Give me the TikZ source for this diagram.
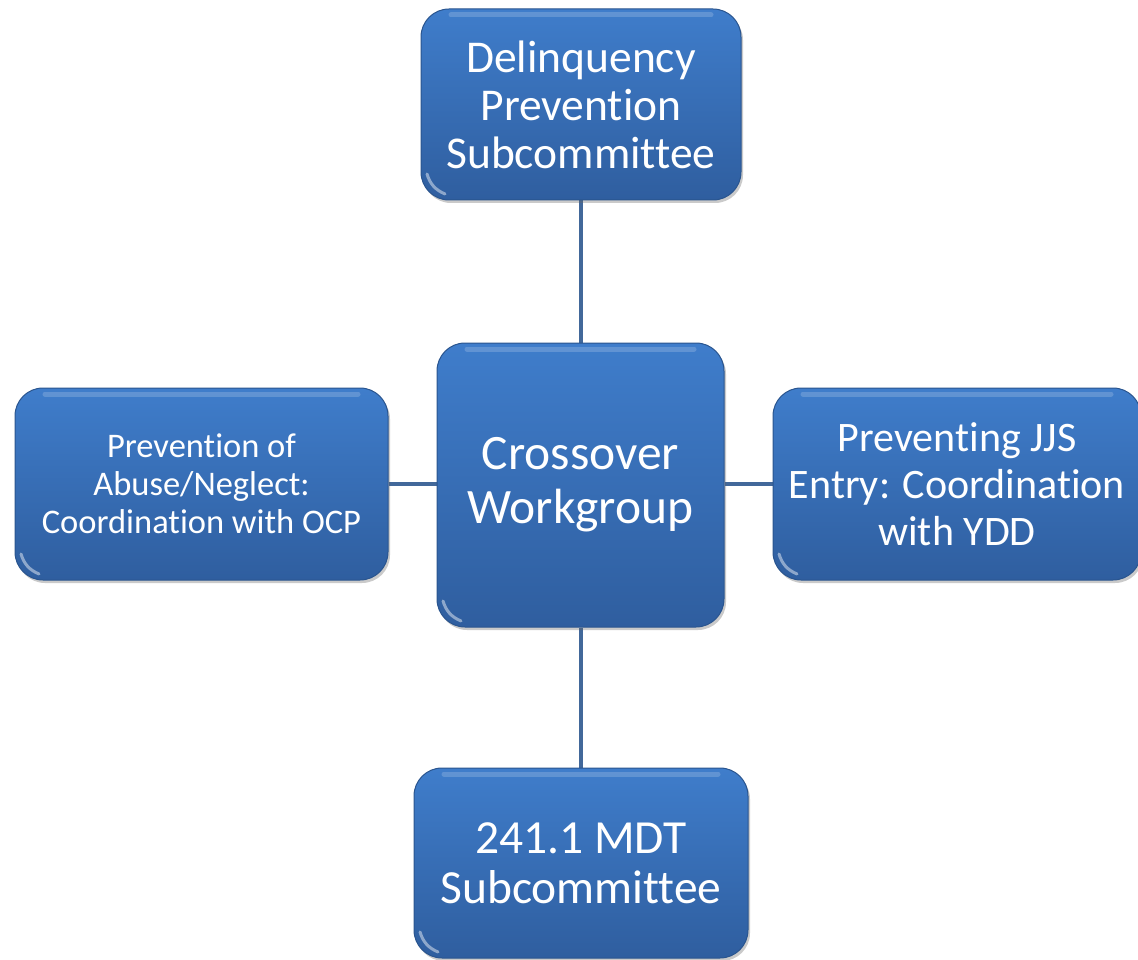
\documentclass[tikz,border=0pt]{standalone}
\usepackage{fontspec}
\setmainfont{Carlito}[Ligatures=CommonOff]
\usetikzlibrary{backgrounds,shadows}
\definecolor{boxtop}{HTML}{3F7DCB}
\definecolor{boxbot}{HTML}{2F5E9F}
\definecolor{boxedge}{HTML}{2A558F}
\definecolor{linkcol}{HTML}{42689A}
\tikzset{
  box/.style={rectangle, rounded corners=28pt, top color=boxtop, bottom color=boxbot,
    draw=boxedge, line width=1pt, text=white, align=center, inner sep=0pt,
    drop shadow={shadow xshift=2pt, shadow yshift=-3pt, opacity=0.35, fill=black!60},
    path picture={
      \draw[white, opacity=0.18, line width=5pt, line cap=round]
        ([xshift=30pt,yshift=-6pt]path picture bounding box.north west) --
        ([xshift=-30pt,yshift=-6pt]path picture bounding box.north east);
      \draw[white, opacity=0.45, line width=3pt, line cap=round]
        ([xshift=6pt,yshift=26pt]path picture bounding box.south west) to[bend right=25]
        ([xshift=24pt,yshift=6pt]path picture bounding box.south west);
    }},
  link/.style={draw=linkcol, line width=4pt}
}
\begin{document}
\begin{tikzpicture}[x=1pt,y=-1pt]
\useasboundingbox (0,0) rectangle (1138,960);
\node[box, minimum width=320pt, minimum height=191pt, font=\fontsize{45.5}{48}\selectfont] (top) at (581,104.5)
  {Delinquency\\Prevention\\Subcommittee};
\node[box, minimum width=287pt, minimum height=284pt, font=\fontsize{49.5}{54}\selectfont] (center) at (580.5,485)
  {Crossover\\Workgroup};
\node[box, minimum width=373pt, minimum height=192pt, font=\fontsize{34.5}{38}\selectfont] (left) at (201.5,484)
  {Prevention of\\Abuse/Neglect:\\Coordination with OCP};
\node[box, minimum width=368pt, minimum height=192pt, font=\fontsize{42}{47}\selectfont] (right) at (957,484)
  {Preventing JJS\\Entry: Coordination\\with YDD};
\node[box, minimum width=334pt, minimum height=190pt, font=\fontsize{47.5}{50}\selectfont] (bottom) at (581,863)
  {241.1 MDT\\Subcommittee};
\begin{scope}[on background layer]
\draw[link] (top.south) -- (top.south |- center.north);
\draw[link] (bottom.north) -- (bottom.north |- center.south);
\draw[link] (left.east) -- (left.east -| center.west);
\draw[link] (right.west) -- (right.west -| center.east);
\end{scope}
\end{tikzpicture}
\end{document}
